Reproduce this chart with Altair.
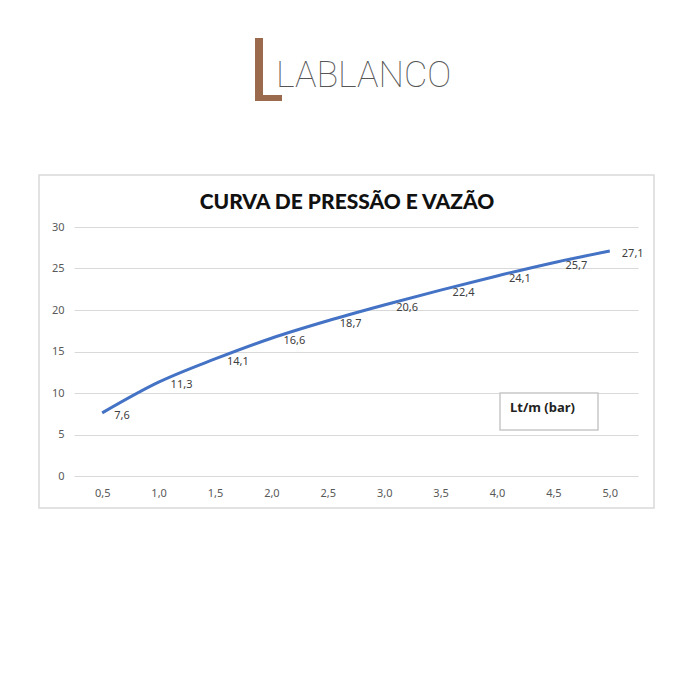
import altair as alt
import pandas as pd

# Pressure steps (bar) and measured flow (L/min)
pressure_labels = ["0,5", "1,0", "1,5", "2,0", "2,5", "3,0", "3,5", "4,0", "4,5", "5,0"]
flow_values = [7.6, 11.3, 14.1, 16.6, 18.7, 20.6, 22.4, 24.1, 25.7, 27.1]
y_ticks = [0, 5, 10, 15, 20, 25, 30]

title_text = "CURVA DE PRESSÃO E VAZÃO"
legend_text = "Lt/m (bar)"
brand_text = "LABLANCO"

df = pd.DataFrame({"pressao": pressure_labels, "vazao": flow_values})
df["rotulo"] = [f"{v:.1f}".replace(".", ",") for v in flow_values]

one = pd.DataFrame({"t": [""]})

AXIS_FONT = "Noto Sans"
BLUE = "#4472C4"
GRID = "#d9d9d9"
BROWN = "#9B6A4C"

x_enc = alt.X(
    "pressao:N",
    sort=pressure_labels,
    scale=alt.Scale(type="point", padding=0.5),
    axis=alt.Axis(
        title=None, labelAngle=0, domain=False, ticks=False, grid=False,
        labelPadding=11, labelColor="#595959", labelFont=AXIS_FONT, labelFontSize=11,
    ),
)
y_enc = alt.Y(
    "vazao:Q",
    scale=alt.Scale(domain=[0, 30], nice=False),
    axis=alt.Axis(
        values=y_ticks, title=None, domain=False, ticks=False,
        gridColor=GRID, gridWidth=1, labelPadding=10,
        labelColor="#595959", labelFont=AXIS_FONT, labelFontSize=11,
    ),
)

# Outer chart frame
frame = alt.Chart(one).mark_rect(fillOpacity=0, stroke=GRID, strokeWidth=1.5).encode(
    x=alt.value(-35), x2=alt.value(580), y=alt.value(-52), y2=alt.value(281)
)

line = alt.Chart(df).mark_line(color=BLUE, strokeWidth=3, interpolate="monotone").encode(
    x=x_enc, y=y_enc
)

labels = alt.Chart(df).mark_text(
    align="left", baseline="middle", dx=12, dy=3,
    font=AXIS_FONT, fontSize=11, color="#404040",
).encode(x=x_enc, y=y_enc, text="rotulo:N")

title = alt.Chart(pd.DataFrame({"t": [title_text]})).mark_text(
    align="center", baseline="middle", font="Lato", fontWeight=900, fontSize=21, color="#111111"
).encode(x=alt.value(273), y=alt.value(-24), text="t:N")

# Legend box
legend_box = alt.Chart(one).mark_rect(fill="white", stroke="#c8c8c8", strokeWidth=1.5).encode(
    x=alt.value(426), x2=alt.value(524), y=alt.value(166), y2=alt.value(203)
)
legend_label = alt.Chart(pd.DataFrame({"t": [legend_text]})).mark_text(
    align="left", baseline="middle", font=AXIS_FONT, fontWeight="bold", fontSize=13, color="#222222"
).encode(x=alt.value(436), y=alt.value(181), text="t:N")

# Brand mark: brown L plus the name
logo_stem = alt.Chart(one).mark_rect(color=BROWN).encode(
    x=alt.value(181), x2=alt.value(189), y=alt.value(-189), y2=alt.value(-126)
)
logo_foot = alt.Chart(one).mark_rect(color=BROWN).encode(
    x=alt.value(181), x2=alt.value(208), y=alt.value(-132), y2=alt.value(-126)
)
brand = alt.Chart(pd.DataFrame({"t": [brand_text]})).mark_text(
    align="left", baseline="alphabetic", font="Roboto", fontWeight=100, fontSize=36, color="#555555"
).encode(x=alt.value(202), y=alt.value(-140), text="t:N")

chart = alt.layer(
    frame, line, labels, title, legend_box, legend_label, logo_stem, logo_foot, brand
).properties(
    width=564, height=249,
    autosize=alt.AutoSizeParams(type="none"),
    padding={"left": 74, "top": 227, "right": 62, "bottom": 224},
    background="white",
).configure_view(stroke=None)

chart.save("out.html", embed_options={"renderer": "svg", "actions": False})
